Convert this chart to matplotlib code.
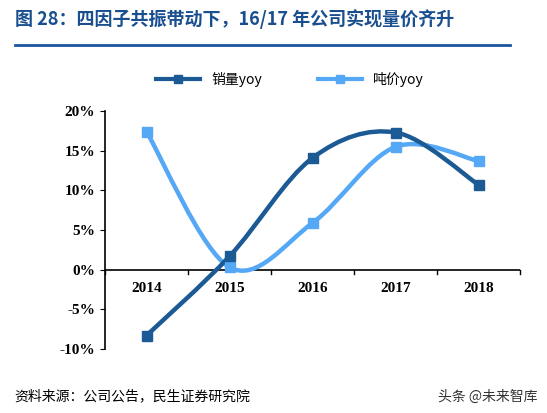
import matplotlib
matplotlib.use("Agg")
import matplotlib.pyplot as plt
from matplotlib.path import Path
from matplotlib.patches import PathPatch
from matplotlib.lines import Line2D
import numpy as np

plt.rcParams['font.family'] = ['Noto Sans CJK SC', 'DejaVu Sans']

years = ["2014", "2015", "2016", "2017", "2018"]
volume_yoy = [-8.3, 1.7, 14.1, 17.3, 10.7]
price_yoy = [17.4, 0.3, 5.9, 15.5, 13.7]

DARK = "#1b5a94"
LIGHT = "#55a8f5"
TITLE = "#1a4f8f"

fig = plt.figure(figsize=(5.47, 4.13), dpi=100)
ax = fig.add_axes([0.192, 0.155, 0.759, 0.576])


def smooth_path(x, y, t=0.5):
    # Catmull-Rom style bezier through the data points
    x, y = np.asarray(x, float), np.asarray(y, float)
    verts, codes = [(x[0], y[0])], [Path.MOVETO]
    n = len(x)
    for i in range(n - 1):
        x0, y0 = (x[i - 1], y[i - 1]) if i > 0 else (x[i], y[i])
        x3, y3 = (x[i + 2], y[i + 2]) if i + 2 < n else (x[i + 1], y[i + 1])
        c1 = (x[i] + (x[i + 1] - x0) * t / 3, y[i] + (y[i + 1] - y0) * t / 3)
        c2 = (x[i + 1] - (x3 - x[i]) * t / 3, y[i + 1] - (y3 - y[i]) * t / 3)
        verts += [c1, c2, (x[i + 1], y[i + 1])]
        codes += [Path.CURVE4] * 3
    return Path(verts, codes)


xs = np.arange(len(years))
for vals, col in [(price_yoy, LIGHT), (volume_yoy, DARK)]:
    ax.add_patch(PathPatch(smooth_path(xs, vals, 0.5), fill=False, edgecolor=col, lw=3.2, zorder=3))
    ax.plot(xs, vals, "s", color=col, ms=6.5, zorder=4)

ax.set_xlim(-0.5, 4.5)
ax.set_ylim(-10, 20)
ax.set_yticks(np.arange(-10, 21, 5))
ax.set_yticklabels([f"{v}%" for v in range(-10, 21, 5)], fontsize=11, fontweight="bold",
                   family=["Liberation Serif"])
ax.set_xticks([])
for s in ["top", "right", "bottom"]:
    ax.spines[s].set_visible(False)
ax.spines["left"].set_linewidth(1.2)
ax.axhline(0, color="black", lw=1.2, zorder=2)
for i, yr in zip(xs, years):
    ax.text(i, -2.4, yr, ha="center", va="center", fontsize=11, fontweight="bold",
            family=["Liberation Serif"])
for i in range(len(xs) + 1):
    ax.plot([i - 0.5, i - 0.5], [0, -0.6], color="black", lw=1.0, clip_on=False)

handles = [Line2D([], [], color=DARK, lw=3, marker="s", ms=6),
           Line2D([], [], color=LIGHT, lw=3, marker="s", ms=6)]
fig.legend(handles, ["销量yoy", "吨价yoy"], loc="center", bbox_to_anchor=(0.53, 0.808),
           ncol=2, frameon=False, fontsize=10, handlelength=3.2, columnspacing=4)

fig.text(0.027, 0.955, "图 28：四因子共振带动下，16/17 年公司实现量价齐升", color=TITLE,
         fontsize=13, fontweight="bold", va="center")
fig.add_artist(Line2D([0.027, 0.932], [0.891, 0.891], color="#1a56a0", lw=2))
fig.text(0.027, 0.04, "资料来源：公司公告，民生证券研究院", fontsize=10, va="center")
fig.text(0.80, 0.04, "头条 @未来智库", fontsize=10, va="center", color="#333333")

fig.savefig("out.png", dpi=100)
